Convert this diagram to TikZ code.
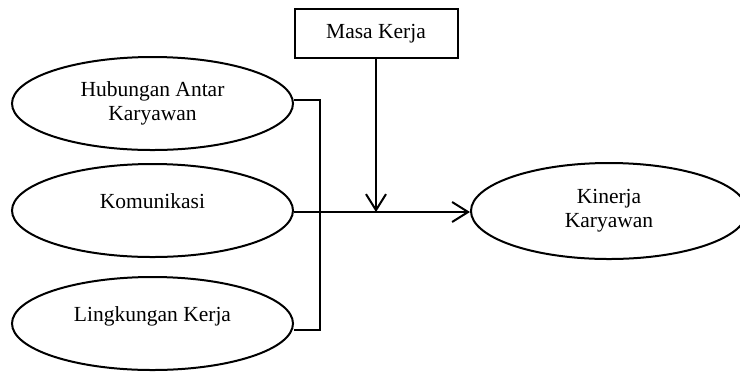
\documentclass[tikz,border=0pt]{standalone}
\usepackage{fontspec}
\setmainfont{Liberation Serif}
\usetikzlibrary{shapes.geometric,arrows.meta}
\begin{document}
\begin{tikzpicture}[x=0.5pt,y=-0.5pt, line width=1pt,
  var/.style={ellipse, draw, minimum width=140.5pt, minimum height=46.5pt, align=center, inner sep=0pt, font=\fontsize{10.75}{12}\selectfont},
  mod/.style={rectangle, draw, minimum width=81.5pt, minimum height=24.5pt, inner sep=0pt, font=\fontsize{10.75}{12}\selectfont},
  tip/.style={-{Straight Barb[length=8pt,width=10pt]}}]
\useasboundingbox (0,0) rectangle (740,372);
\node[var] (hub) at (152.5,103.5){Hubungan Antar\\Karyawan};
\node[var] (kom) at (152.5,210.5){Komunikasi\\[-3pt]};
\node[var] (ling) at (152.5,323.5){Lingkungan Kerja\\[-3pt]};
\node[mod] (masa) at (376,33.5){Masa Kerja};
\node[var, minimum width=138pt, minimum height=48pt] (kin) at (609,211){Kinerja\\Karyawan};
\coordinate (b0) at (320,100);
\coordinate (b1) at (320,330);
\coordinate (mid) at (376,212);
\draw[](hub.east |- b0) -- (b0) -- (b1) -- (ling.east |- b1);
\draw[tip](kom.east |- mid) -- (kin.west |- mid);
\draw[tip](masa.south) -- (mid);

\end{tikzpicture}
\end{document}
